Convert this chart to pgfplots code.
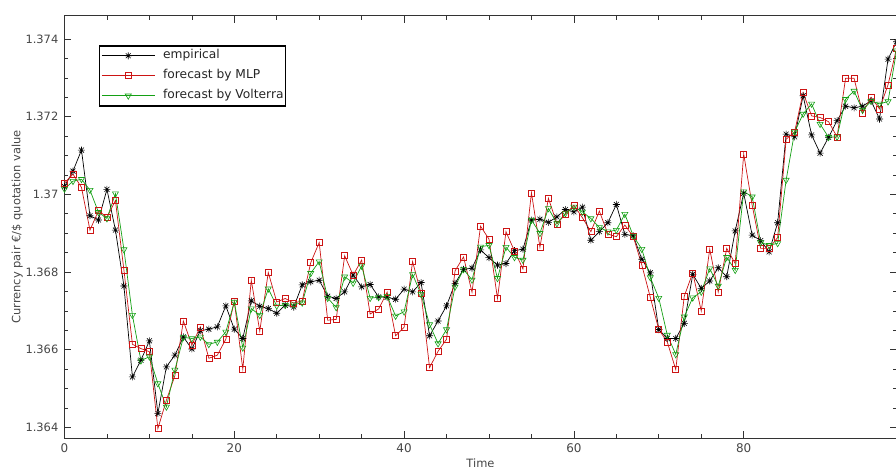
\documentclass[border=0pt]{standalone}
\usepackage{pgfplots}
\pgfplotsset{compat=1.18}
\usepackage{pgfplotstable}
\usepackage{fontspec}
\setmainfont{DejaVu Sans}
\usetikzlibrary{calc}
\definecolor{mlpred}{RGB}{204,20,20}
\definecolor{volgreen}{RGB}{20,160,20}
\definecolor{tickgray}{RGB}{70,70,70}

\pgfdeclareplotmark{ast8}{%
 \pgfpathmoveto{\pgfqpoint{-\pgfplotmarksize}{0pt}}\pgfpathlineto{\pgfqpoint{\pgfplotmarksize}{0pt}}%
 \pgfpathmoveto{\pgfqpoint{0pt}{-\pgfplotmarksize}}\pgfpathlineto{\pgfqpoint{0pt}{\pgfplotmarksize}}%
 \pgfpathmoveto{\pgfqpoint{-0.7071\pgfplotmarksize}{-0.7071\pgfplotmarksize}}\pgfpathlineto{\pgfqpoint{0.7071\pgfplotmarksize}{0.7071\pgfplotmarksize}}%
 \pgfpathmoveto{\pgfqpoint{-0.7071\pgfplotmarksize}{0.7071\pgfplotmarksize}}\pgfpathlineto{\pgfqpoint{0.7071\pgfplotmarksize}{-0.7071\pgfplotmarksize}}%
 \pgfusepathqstroke}

\pgfplotstableread{
t e m v
0 1.37020 1.37029 1.37014
1 1.37060 1.37052 1.37034
2 1.37114 1.37018 1.37039
3 1.36945 1.36908 1.37011
4 1.36934 1.36958 1.36954
5 1.37013 1.36941 1.36938
6 1.36908 1.36984 1.37002
7 1.36764 1.36805 1.36858
8 1.36530 1.36614 1.36689
9 1.36573 1.36603 1.36572
10 1.36623 1.36595 1.36582
11 1.36436 1.36397 1.36513
12 1.36556 1.36470 1.36453
13 1.36586 1.36533 1.36548
14 1.36633 1.36674 1.36632
15 1.36602 1.36612 1.36629
16 1.36649 1.36659 1.36633
17 1.36653 1.36578 1.36614
18 1.36659 1.36586 1.36620
19 1.36713 1.36627 1.36646
20 1.36653 1.36725 1.36723
21 1.36629 1.36550 1.36605
22 1.36726 1.36779 1.36706
23 1.36712 1.36648 1.36689
24 1.36706 1.36799 1.36757
25 1.36694 1.36723 1.36713
26 1.36715 1.36732 1.36715
27 1.36710 1.36720 1.36716
28 1.36767 1.36726 1.36721
29 1.36775 1.36824 1.36797
30 1.36779 1.36876 1.36827
31 1.36738 1.36676 1.36733
32 1.36732 1.36678 1.36709
33 1.36749 1.36842 1.36788
34 1.36792 1.36792 1.36772
35 1.36762 1.36831 1.36816
36 1.36768 1.36692 1.36733
37 1.36736 1.36705 1.36735
38 1.36735 1.36748 1.36738
39 1.36730 1.36636 1.36687
40 1.36756 1.36658 1.36698
41 1.36749 1.36827 1.36794
42 1.36773 1.36745 1.36743
43 1.36636 1.36554 1.36665
44 1.36674 1.36596 1.36616
45 1.36713 1.36627 1.36652
46 1.36771 1.36803 1.36762
47 1.36807 1.36839 1.36807
48 1.36810 1.36748 1.36780
49 1.36857 1.36918 1.36865
50 1.36837 1.36885 1.36869
51 1.36818 1.36732 1.36784
52 1.36822 1.36904 1.36864
53 1.36855 1.36854 1.36838
54 1.36859 1.36808 1.36831
55 1.36934 1.37004 1.36934
56 1.36936 1.36864 1.36900
57 1.36928 1.36990 1.36964
58 1.36942 1.36924 1.36925
59 1.36961 1.36949 1.36951
60 1.36955 1.36972 1.36968
61 1.36967 1.36940 1.36955
62 1.36882 1.36904 1.36938
63 1.36904 1.36957 1.36915
64 1.36927 1.36898 1.36904
65 1.36974 1.36891 1.36908
66 1.36897 1.36921 1.36949
67 1.36893 1.36891 1.36893
68 1.36833 1.36818 1.36859
69 1.36798 1.36735 1.36786
70 1.36652 1.36652 1.36733
71 1.36629 1.36620 1.36638
72 1.36629 1.36549 1.36588
73 1.36668 1.36738 1.36685
74 1.36794 1.36798 1.36734
75 1.36758 1.36700 1.36749
76 1.36777 1.36859 1.36809
77 1.36811 1.36749 1.36764
78 1.36788 1.36861 1.36838
79 1.36906 1.36822 1.36805
80 1.37003 1.37104 1.37007
81 1.36895 1.36972 1.36994
82 1.36881 1.36861 1.36876
83 1.36852 1.36861 1.36869
84 1.36927 1.36889 1.36874
85 1.37155 1.37142 1.37037
86 1.37148 1.37161 1.37161
87 1.37254 1.37262 1.37207
88 1.37153 1.37202 1.37233
89 1.37106 1.37198 1.37181
90 1.37147 1.37187 1.37147
91 1.37190 1.37148 1.37148
92 1.37227 1.37299 1.37245
93 1.37223 1.37299 1.37266
94 1.37227 1.37209 1.37217
95 1.37241 1.37250 1.37240
96 1.37194 1.37220 1.37233
97 1.37348 1.37282 1.37239
98 1.37393 1.37375 1.37370
}\data

\begin{document}
\begin{tikzpicture}
\begin{axis}[
  scale only axis, width=832bp, height=422.6bp,
  xmin=0, xmax=98, ymin=1.36372, ymax=1.37460,
  xtick={0,20,40,60,80}, minor x tick num=3,
  ytick={1.364,1.366,1.368,1.370,1.372,1.374}, minor y tick num=3,
  scaled y ticks=false,
  tick align=inside,
  major tick length=7bp, minor tick length=4bp,
  axis line style={black!80, line width=0.8bp},
  every tick/.style={black!80, line width=0.6bp},
  /pgf/number format/assume math mode=true,
  tick label style={text=tickgray},
  xticklabel style={font=\fontsize{12}{14}\selectfont, anchor=north, inner sep=0pt, yshift=-5bp},
  yticklabel style={font=\fontsize{11.5}{13}\selectfont, anchor=east, inner sep=0pt, xshift=-6bp,
     /pgf/number format/fixed, /pgf/number format/precision=3},
  xlabel={Time}, ylabel={Currency pair €/\$ quotation value},
  every axis x label/.style={at={(axis description cs:0.5,-0.0473)}, anchor=north, inner sep=0pt,
     font=\fontsize{11.5}{13}\selectfont, text=tickgray},
  every axis y label/.style={at={(axis description cs:-0.0531,0.5)}, rotate=90, anchor=base, inner sep=0pt,
     font=\fontsize{11.5}{13}\selectfont, text=tickgray},
  legend cell align=left,
  legend image code/.code={\draw[mark repeat=2,mark phase=2,#1] plot coordinates {(0bp,0bp) (26.5bp,0bp) (53bp,0bp)};},
  legend style={at={(axis description cs:0.0409,0.931)}, anchor=north west, draw=black, line width=1.8bp,
     inner xsep=2bp, inner ysep=4bp, font=\fontsize{12.3}{14}\selectfont, text=black!85, row sep=8bp,
     nodes={inner sep=0pt, text height=9bp, text depth=3bp},
     /tikz/every odd column/.append style={column sep=8bp}},
]
\coordinate (bl) at (rel axis cs:0,0);
\coordinate (tr) at (rel axis cs:1,1);
\addplot[black, line width=0.7bp, mark=ast8, mark size=3.5bp, mark options={line width=0.6bp}] table[x=t,y=e]{\data};
\addlegendentry{empirical}
\addplot[mlpred, line width=0.7bp, mark=square, mark size=3bp, mark options={line width=0.6bp}] table[x=t,y=m]{\data};
\addlegendentry{forecast by MLP}
\addplot[volgreen, line width=0.7bp, mark=triangle, mark size=3.5bp, mark options={rotate=180, line width=0.6bp}] table[x=t,y=v]{\data};
\addlegendentry{forecast by Volterra}
\end{axis}
\pgfresetboundingbox
\path[use as bounding box] ($(bl)+(-64.5bp,-27.7bp)$) rectangle ($(tr)+(-0.5bp,15.7bp)$);
\end{tikzpicture}
\end{document}
